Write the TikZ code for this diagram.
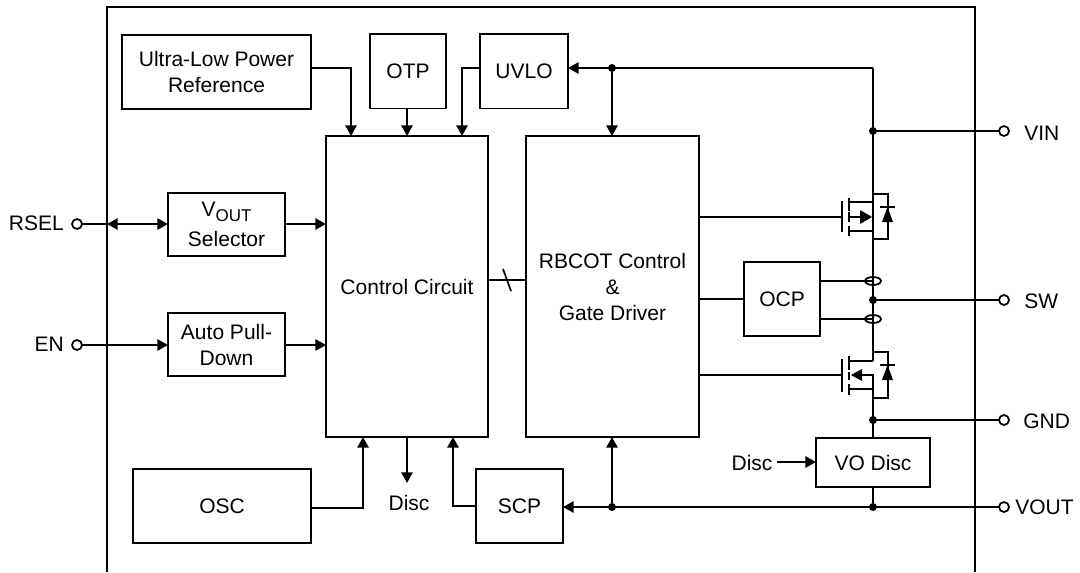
\documentclass[tikz,border=0pt]{standalone}
\usepackage{fontspec}
\setmainfont{Liberation Sans}
\usetikzlibrary{arrows.meta,calc}
\tikzset{
  blk/.style={draw,line width=1.3pt,align=center,inner sep=0pt,outer sep=0pt,font=\fontsize{15.75}{19.5}\selectfont},
  wire/.style={line width=1.3pt},
  arr/.style={wire,-{Triangle[length=8pt,width=8.5pt]}},
  barr/.style={wire,{Triangle[length=8pt,width=8.5pt]}-{Triangle[length=8pt,width=8.5pt]}},
  dot/.style={circle,fill=black,inner sep=0pt,minimum size=6pt,outer sep=0pt},
  term/.style={circle,draw,fill=white,line width=1.3pt,inner sep=0pt,minimum size=7.5pt,outer sep=0pt},
  lab/.style={inner sep=0pt,font=\fontsize{15.75}{19}\selectfont},
  fetl/.style={line width=1.7pt},
}
\newcommand\bx[6]{\node[blk,minimum width={(#4-#2)*0.75pt},minimum height={(#5-#3)*0.75pt}] (#1) at ({(#2+#4)/2},{(#3+#5)/2}) {#6};}
\begin{document}
\begin{tikzpicture}[x=0.75pt,y=-0.75pt]
\useasboundingbox (0,0) rectangle (1080,572);
% frame
\draw[wire] (107,572) -- (107,7) -- (975,7) -- (975,572);
% blocks
\bx{ultra}{122}{35}{311}{109}{Ultra-Low Power\\Reference}
\bx{otp}{370}{34}{446}{108.5}{OTP}
\bx{uvlo}{480}{34}{568}{108.5}{UVLO}
\bx{ctrl}{326}{136}{488}{437}{Control Circuit}
\bx{rbcot}{526}{136}{699}{437}{RBCOT Control\\\&\\Gate Driver}
\bx{vsel}{168}{193}{285}{256}{V\raisebox{-3.75pt}{\fontsize{12.75}{14}\selectfont OUT}\\[3pt]Selector}
\bx{apd}{168}{313}{285}{376}{Auto Pull-\\Down}
\bx{osc}{133}{469}{311}{543}{OSC}
\bx{scp}{476}{469}{563}{543}{SCP}
\bx{ocp}{744}{262}{820}{336}{OCP}
\bx{vodisc}{816}{438}{930}{487}{VO Disc}
% terminals
\node[term] (tvin) at (1004,131) {};
\node[term] (tsw) at (1004,300) {};
\node[term] (tgnd) at (1004,420) {};
\node[term] (tvout) at (1004,507) {};
\node[term] (trsel) at (77,224) {};
\node[term] (ten) at (77,345) {};
\node[lab,anchor=west] (lvin) at (1024,133) {VIN};
\node[lab,anchor=west] (lsw) at (1024,301) {SW};
\node[lab,anchor=west] (lgnd) at (1023,421) {GND};
\node[lab,anchor=west] (lvout) at (1015,507) {VOUT};
\node[lab,anchor=east] (lrsel) at (64,223) {RSEL};
\node[lab,anchor=east] (len) at (64,344) {EN};
\node[lab] (ldisc) at (409,503) {Disc};
\node[lab] (ldisc2) at (752,463) {Disc};
% junctions
\node[dot] (j1) at (612,68) {};
\node[dot] (j2) at (873,131) {};
\node[dot] (j3) at (873,300) {};
\node[dot] (j4) at (873,420) {};
\node[dot] (j5) at (873,507) {};
\node[dot] (j6) at (612,507) {};
% routing points
\coordinate (u1) at (351,68);
\coordinate (u2) at (462,68);
\coordinate (c1) at (873,68);
\coordinate (o1) at (363,508);
\coordinate (s1) at (453,506);
\coordinate (d1) at (407,483);
\coordinate (b1) at (515,280);
\coordinate (sla) at (503,269);
\coordinate (slb) at (511,291);
\coordinate (g1) at (842,217);
\coordinate (g2) at (842,375);
\coordinate (f1) at (873,194);
\coordinate (f2) at (873,239);
\coordinate (f3) at (873,352);
\coordinate (f4) at (873,398);
\coordinate (rs) at (107,224);
\coordinate (d2) at (777,462);
\coordinate (y1) at (0,224);
\coordinate (y2) at (0,281);
\coordinate (y3) at (0,319);
\coordinate (e1) at (873,281);
\coordinate (e2) at (873,319);
\coordinate (otpx) at (407,0);
% connectors
\draw[arr] (ultra.east |- u1) -- (u1) -- (u1 |- ctrl.north);
\draw[arr] (otpx |- otp.south) -- (otpx |- ctrl.north);
\draw[arr] (uvlo.west |- u2) -- (u2) -- (u2 |- ctrl.north);
\draw[arr] (c1) -- (uvlo.east |- c1);
\draw[arr] (j1) -- (j1 |- rbcot.north);
\draw[wire] (f1) -- (c1);
\draw[wire] (j2) -- (tvin);
\draw[wire] (j3) -- (tsw);
\draw[wire] (j4) -- (tgnd);
\draw[wire] (j5) -- (tvout);
\draw[barr] (vsel.west |- rs) -- (rs);
\draw[wire] (trsel) -- (rs);
\draw[arr] (vsel.east |- y1) -- (ctrl.west |- y1);
\draw[arr] (ten) -- (apd.west |- ten);
\draw[arr] (apd.east |- ten) -- (ctrl.west |- ten);
\draw[arr] (osc.east |- o1) -- (o1) -- (o1 |- ctrl.south);
\draw[arr] (d1 |- ctrl.south) -- (d1);
\draw[arr] (scp.west |- s1) -- (s1) -- (s1 |- ctrl.south);
\draw[arr] (tvout) -- (scp.east |- tvout);
\draw[arr] (j6) -- (j6 |- rbcot.south);
\draw[wire] (ctrl.east |- b1) -- (rbcot.west |- b1);
\draw[wire] (sla) -- (slb);
\draw[wire] (rbcot.east |- ocp.west) -- (ocp.west);
\draw[wire] (rbcot.east |- g1) -- (g1);
\draw[wire] (rbcot.east |- g2) -- (g2);
\draw[wire] (ocp.east |- y2) -- (e1);
\draw[wire] (ocp.east |- y3) -- (e2);
\draw[wire] (f2) -- (f3);
\draw[wire] (f4) -- (vodisc.north -| j4);
\draw[wire] (vodisc.south -| j5) -- (j5);
\draw[arr] (d2) -- (vodisc.west |- d2);
% current-sense ellipses
\draw[wire] (e1) ellipse [x radius=8,y radius=4];
\draw[wire] (e2) ellipse [x radius=8,y radius=4];
% upper MOSFET
\begin{scope}[shift={(0,217)}]
\draw[fetl] (842,-16) -- (842,15);
\draw[fetl] (849,-19) -- (849,-6) (849,-5) -- (849,5) (849,9) -- (849,19);
\draw[wire] (849,-15) -- (873,-15) (849,14) -- (873,14);
\draw[wire] (873,-23) -- (873,22);
\draw[wire] (873,-23) -- (888,-23) -- (888,22) -- (873,22);
\draw[wire] (849,0) -- (862,0);
\fill (860,-7) -- (872,0) -- (860,7) -- cycle;
\draw[wire] (880,-10) -- (895,-10);
\fill (887.5,-10) -- (893,5) -- (882,5) -- cycle;
\end{scope}
% lower MOSFET
\begin{scope}[shift={(0,375)}]
\draw[fetl] (842,-16) -- (842,17);
\draw[fetl] (849,-19) -- (849,-5) (849,-3) -- (849,5) (849,9) -- (849,20);
\draw[wire] (849,-14) -- (873,-14) (849,14) -- (873,14);
\draw[wire] (873,-23) -- (873,-14) (873,0) -- (873,23);
\draw[wire] (873,-23) -- (888,-23) -- (888,23) -- (873,23);
\draw[wire] (860,0) -- (873,0) -- (873,14);
\fill (851,0) -- (862,-6) -- (862,6) -- cycle;
\draw[wire] (880,-10) -- (895,-10);
\fill (887.5,-10) -- (893,5) -- (882,5) -- cycle;
\end{scope}
\end{tikzpicture}
\end{document}
